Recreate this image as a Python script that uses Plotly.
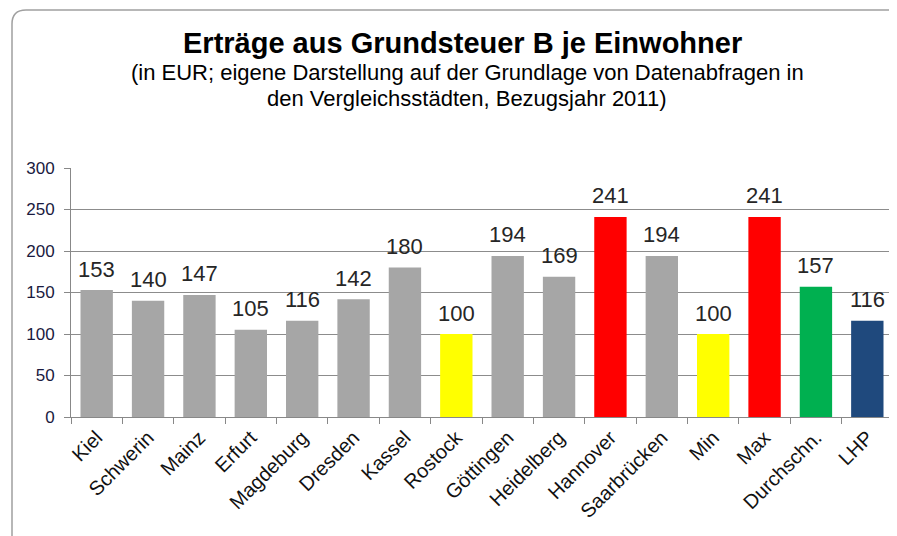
import plotly.graph_objects as go

categories = ["Kiel", "Schwerin", "Mainz", "Erfurt", "Magdeburg", "Dresden", "Kassel",
              "Rostock", "Göttingen", "Heidelberg", "Hannover", "Saarbrücken",
              "Min", "Max", "Durchschn.", "LHP"]
values = [153, 140, 147, 105, 116, 142, 180, 100, 194, 169, 241, 194, 100, 241, 157, 116]
bar_colors = ["#A6A6A6"] * 7 + ["#FFFF00", "#A6A6A6", "#A6A6A6", "#FF0000", "#A6A6A6",
                                "#FFFF00", "#FF0000", "#00B050", "#1F497D"]
y_ticks = [0, 50, 100, 150, 200, 250, 300]

OFF = 8  # browser body margin
W, H = 897 - OFF, 536 - OFF
# plot area in reference pixel coordinates
PX0, PX1, PY0, PY1 = 71, 893, 168, 417
L, R, T, B = PX0 - OFF, W - (PX1 - OFF), PY0 - OFF, H - (PY1 - OFF)
pw, ph = W - L - R, H - T - B

def px(x):
    return (x - OFF - L) / pw

def py(y):
    return (H - B - (y - OFF)) / ph

FONT = "Liberation Sans, Arial"

fig = go.Figure(go.Bar(
    x=categories, y=values,
    marker=dict(color=bar_colors, line=dict(width=0)),
    cliponaxis=False, width=0.63,
))

for c, v in zip(categories, values):
    fig.add_annotation(x=c, y=v, text=str(v), showarrow=False, xanchor="center",
                       yanchor="middle", yshift=21,
                       font=dict(family=FONT, size=22, color="#262626"))

# rounded frame
x0, y0, x1, y1, r = 12, 10, 910, 560, 14
path = (f"M {px(x0)},{py(y0 + r)} Q {px(x0)},{py(y0)} {px(x0 + r)},{py(y0)} "
        f"L {px(x1)},{py(y0)} L {px(x1)},{py(y1)} L {px(x0)},{py(y1)} Z")
fig.add_shape(type="path", path=path, xref="paper", yref="paper",
              line=dict(color="#A0A0A0", width=1.5), fillcolor="rgba(0,0,0,0)", layer="below")

fig.add_annotation(text="<b>Erträge aus Grundsteuer B je Einwohner</b>", xref="paper", yref="paper",
                   x=px(462), y=py(43), xanchor="center", yanchor="middle", showarrow=False,
                   font=dict(family=FONT, size=29, color="#000000"))
sub_lines = ["(in EUR; eigene Darstellung auf der Grundlage von Datenabfragen in",
             "den Vergleichsstädten, Bezugsjahr 2011)"]
for line, yy in zip(sub_lines, [73, 98]):
    fig.add_annotation(text=line, xref="paper", yref="paper",
                       x=px(467), y=py(yy), xanchor="center", yanchor="middle", showarrow=False,
                       font=dict(family=FONT, size=22, color="#000000"))

fig.update_layout(
    width=W, height=H, margin=dict(l=L, r=R, t=T, b=B),
    paper_bgcolor="white", plot_bgcolor="white", showlegend=False,
    xaxis=dict(tickangle=-45, ticks="outside", tickson="boundaries", ticklen=6,
               tickcolor="#888888", showline=True, linecolor="#888888", linewidth=1,
               tickfont=dict(family=FONT, size=20, color="#111111")),
    yaxis=dict(range=[0, 300], tickvals=y_ticks, showgrid=True, gridcolor="#8C8C8C",
               gridwidth=1, showline=True, linecolor="#888888", ticks="outside",
               tickcolor="#888888", ticklen=6, zeroline=False, ticklabelstandoff=6,
               tickfont=dict(family=FONT, size=17, color="#1a1a40")),
)

fig.write_html("out.html")
